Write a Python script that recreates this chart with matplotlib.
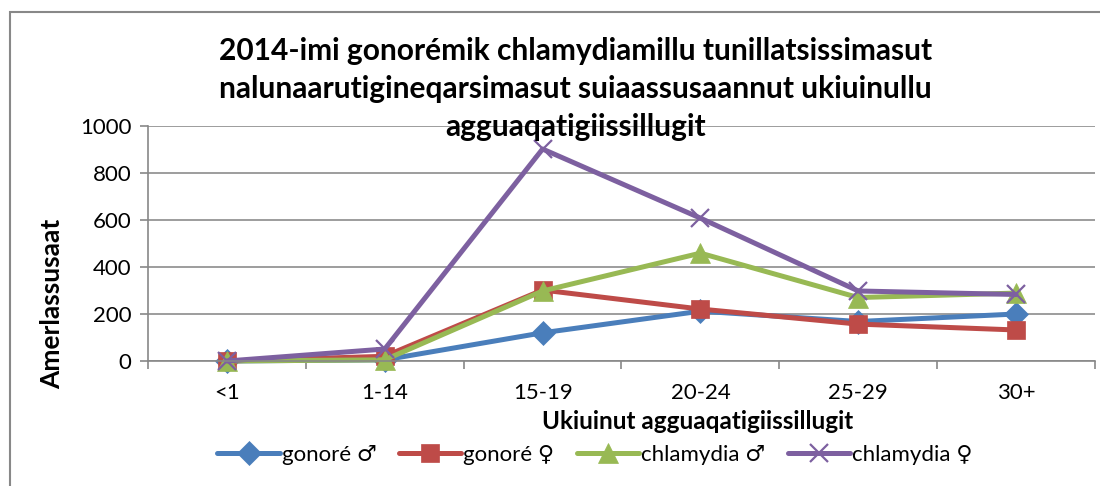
import matplotlib
matplotlib.use("Agg")
import matplotlib.pyplot as plt
from matplotlib.patches import Rectangle

categories = ["<1", "1-14", "15-19", "20-24", "25-29", "30+"]
gonore_m = [0, 5, 120, 212, 168, 200]
gonore_f = [0, 20, 302, 221, 157, 132]
chlam_m = [0, 5, 298, 459, 270, 289]
chlam_f = [0, 51, 902, 608, 298, 283]
series_labels = ["gonoré ♂", "gonoré ♀", "chlamydia ♂", "chlamydia ♀"]
yticks = [0, 200, 400, 600, 800, 1000]

plt.rcParams['font.family'] = ['Lato', 'DejaVu Sans']

fig = plt.figure(figsize=(11, 4.86), dpi=100)
ax = fig.add_axes([148/1100, 1-361/486, (1095-148)/1100, (361-126)/486])

x = list(range(len(categories)))
styles = [
    (gonore_m, "#4A7EBB", "D", 12),
    (gonore_f, "#BE4B48", "s", 13),
    (chlam_m, "#98B954", "^", 14),
    (chlam_f, "#7D60A0", "x", 13),
]
for (vals, col, mk, ms), lab in zip(styles, series_labels):
    ax.plot(x, vals, color=col, lw=3.6, marker=mk, markersize=ms,
            markeredgewidth=1.6 if mk == "x" else 0.5, markeredgecolor=col,
            label=lab, solid_capstyle='round', clip_on=False)

ax.set_xlim(-0.5, len(categories) - 0.5)
ax.set_ylim(0, 1000)
ax.set_yticks(yticks)
ax.set_yticklabels([str(v) for v in yticks], fontsize=16)
ax.set_xticks(x)
ax.set_xticklabels(categories, fontsize=16)
ax.tick_params(axis='x', length=0, pad=16)
ax.set_xticks([i - 0.5 for i in range(len(categories) + 1)], minor=True)
ax.tick_params(axis='x', which='minor', length=6, color='#888888', width=1.2)
ax.tick_params(axis='y', length=6, color='#888888', width=1.2, pad=6)
ax.grid(axis='y', color='#8c8c8c', lw=1.2)
ax.set_axisbelow(True)
for s in ['top', 'right']:
    ax.spines[s].set_visible(False)
for s in ['left', 'bottom']:
    ax.spines[s].set_color('#888888')
    ax.spines[s].set_linewidth(1.2)

fig.text(0.523, 1-89/486, "2014-imi gonorémik chlamydiamillu tunillatsissimasut\n"
         "nalunaarutigineqarsimasut suiaassusaannut ukiuinullu\nagguaqatigiissillugit",
         ha='center', va='center', fontsize=21.5, fontweight='bold', linespacing=1.42)
fig.text(698/1100, 1-421/486, "Ukiuinut agguaqatigiissillugit", ha='center', va='center',
         fontsize=17.5, fontweight='bold')
fig.text(52/1100, 1-304/486, "Amerlassusaat", ha='center', va='center', rotation=90,
         fontsize=19, fontweight='bold')

fig.legend(loc='center', bbox_to_anchor=(595/1100, 1-455/486), ncol=4, frameon=False,
           fontsize=16, handlelength=2.8, handletextpad=0.1, columnspacing=1.0,
           borderaxespad=0)

fig.patches.append(Rectangle((10/1100, -0.1), 1.2, 1.1 - 12/486, transform=fig.transFigure,
                             fill=False, edgecolor='#888888', lw=1.5))

fig.savefig("out.png", dpi=100)
